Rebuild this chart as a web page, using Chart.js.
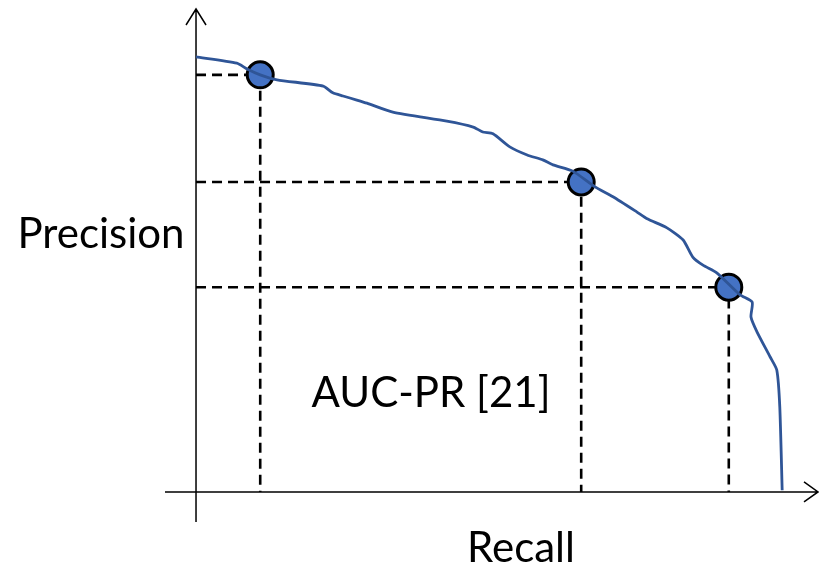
<!DOCTYPE html>
<html>
<head>
<meta charset="utf-8">
<script src="https://cdn.jsdelivr.net/npm/chart.js@4"></script>
<style>
  body { margin: 0; background: #fff; }
  #wrap { width: 819px; height: 572px; }
</style>
</head>
<body>
<div id="wrap"><canvas id="prChart"></canvas></div>
<script>
// PR curve
const curveRecall    = [0, 0.068, 0.085, 0.107, 0.135, 0.212, 0.228, 0.245, 0.268, 0.285, 0.328, 0.418, 0.462, 0.478, 0.495, 0.523, 0.552, 0.578, 0.595, 0.628, 0.665, 0.695, 0.735, 0.752, 0.785, 0.812, 0.828, 0.845, 0.868, 0.907, 0.927, 0.925, 0.935, 0.957, 0.968, 0.973, 0.977];
const curvePrecision = [0.967, 0.953, 0.940, 0.927, 0.916, 0.902, 0.887, 0.880, 0.871, 0.864, 0.844, 0.824, 0.811, 0.800, 0.796, 0.767, 0.749, 0.738, 0.727, 0.713, 0.678, 0.656, 0.622, 0.607, 0.587, 0.560, 0.522, 0.504, 0.487, 0.438, 0.422, 0.389, 0.356, 0.300, 0.271, 0.189, 0.004];

// marked operating points
const markerRecall    = [0.107, 0.642, 0.888];
const markerPrecision = [0.927, 0.689, 0.455];

const xLabel = 'Recall';
const yLabel = 'Precision';
const areaLabel = 'AUC-PR [21]';

const curve = curveRecall.map((r, i) => ({ x: r, y: curvePrecision[i] }));
const markers = markerRecall.map((r, i) => ({ x: r, y: markerPrecision[i] }));

// dashed guides from each marker to both axes
const guides = [];
markers.forEach(m => {
  guides.push({
    data: [{ x: 0, y: m.y }, { x: m.x, y: m.y }, { x: m.x, y: 0 }],
    showLine: true,
    borderColor: '#000',
    borderWidth: 2.6,
    borderDash: [10, 6],
    pointRadius: 0,
    order: 3
  });
});

const FONT = 'Lato, "Noto Sans", sans-serif';

// axes with arrow heads + text labels
const axesPlugin = {
  id: 'axesPlugin',
  beforeDatasetsDraw(chart) {
    const { ctx, scales: { x, y } } = chart;
    const x0 = x.getPixelForValue(0), y0 = y.getPixelForValue(0);
    const xL = x.getPixelForValue(x.min), xR = x.getPixelForValue(x.max);
    const yB = y.getPixelForValue(y.min), yT = y.getPixelForValue(y.max);
    ctx.save();
    ctx.strokeStyle = '#000';
    ctx.lineWidth = 1.5;
    ctx.beginPath();
    ctx.moveTo(xL, y0); ctx.lineTo(xR, y0);
    ctx.moveTo(xR - 14, y0 - 10); ctx.lineTo(xR, y0); ctx.lineTo(xR - 14, y0 + 10);
    ctx.moveTo(x0, yB); ctx.lineTo(x0, yT);
    ctx.moveTo(x0 - 10, yT + 16); ctx.lineTo(x0, yT); ctx.lineTo(x0 + 10, yT + 16);
    ctx.stroke();

    ctx.fillStyle = '#000';
    ctx.textAlign = 'center';
    ctx.textBaseline = 'alphabetic';
    ctx.font = '42px ' + FONT;
    ctx.fillText(yLabel, 101, 248);
    ctx.fillText(xLabel, 521, 562);
    ctx.fillText(areaLabel, 431, 407);
    ctx.restore();
  }
};

new Chart(document.getElementById('prChart'), {
  type: 'scatter',
  data: {
    datasets: [
      {
        data: curve,
        showLine: true,
        borderColor: '#2F5597',
        borderWidth: 2.8,
        pointRadius: 0,
        tension: 0.2,
        order: 1
      },
      {
        data: markers,
        pointRadius: 13,
        pointBackgroundColor: '#4472C4',
        pointBorderColor: '#000',
        pointBorderWidth: 3,
        order: 2
      },
      ...guides
    ]
  },
  options: {
    responsive: true,
    maintainAspectRatio: false,
    animation: false,
    layout: { autoPadding: false, padding: { left: 165, top: 9, right: 1, bottom: 50 } },
    plugins: { legend: { display: false }, tooltip: { enabled: false } },
    scales: {
      x: { type: 'linear', min: -0.0517, max: 1.0367, display: false },
      y: { type: 'linear', min: -0.0667, max: 1.0733, display: false }
    }
  },
  plugins: [axesPlugin]
});
</script>
</body>
</html>
